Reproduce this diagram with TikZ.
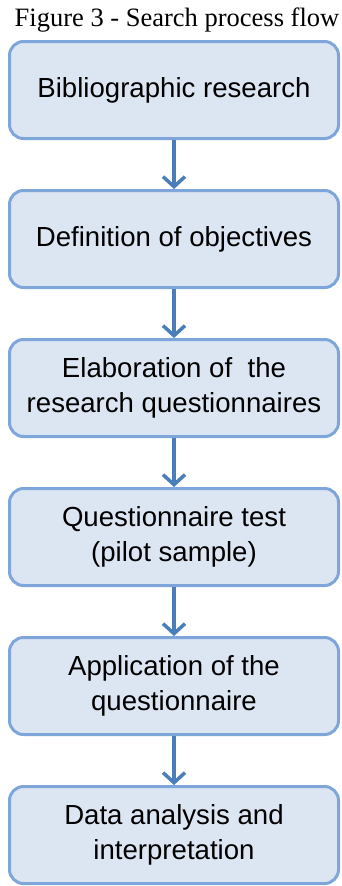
\documentclass[tikz,border=0pt]{standalone}
\usepackage{fontspec}
\setmainfont{Liberation Serif}
\setsansfont{Liberation Sans}
\usepackage{tikz}
\usetikzlibrary{arrows.meta}
\definecolor{boxfill}{RGB}{220,230,242}
\definecolor{boxline}{RGB}{126,166,218}
\definecolor{arrowblue}{RGB}{74,126,187}

\begin{document}
\begin{tikzpicture}[node distance=149pt,
  procbox/.style={draw=boxline, line width=3pt, rounded corners=14pt, fill=boxfill,
    minimum width=329pt, minimum height=97pt, align=center,
    font=\sffamily\fontsize{27.6}{35}\selectfont},
  flowarrow/.style={draw=arrowblue, line width=3.5pt, -{Straight Barb[length=10pt,width=22pt]}}]
\useasboundingbox (0pt,0pt) rectangle (342pt,-886pt);
% Title
\node[font=\fontsize{26.5}{30}\selectfont] (title) at (177pt,-20pt) {Figure 3 - Search process flow};
% Create nodes for the process steps
\node[procbox] (biblio) at (174pt,-90pt) {Bibliographic research};
\node[procbox, below of=biblio] (objectives) {Definition of objectives};
\node[procbox, below of=objectives] (elaboration) {Elaboration of \ the\\research questionnaires};
\node[procbox, below of=elaboration] (pilot) {Questionnaire test\\(pilot sample)};
\node[procbox, below of=pilot] (application) {Application of the\\questionnaire};
\node[procbox, below of=application] (analysis) {Data analysis and\\interpretation};

% Connections
\draw[flowarrow] (biblio) -- (objectives);
\draw[flowarrow] (objectives) -- (elaboration);
\draw[flowarrow] (elaboration) -- (pilot);
\draw[flowarrow] (pilot) -- (application);
\draw[flowarrow] (application) -- (analysis);
\end{tikzpicture}
\end{document}
